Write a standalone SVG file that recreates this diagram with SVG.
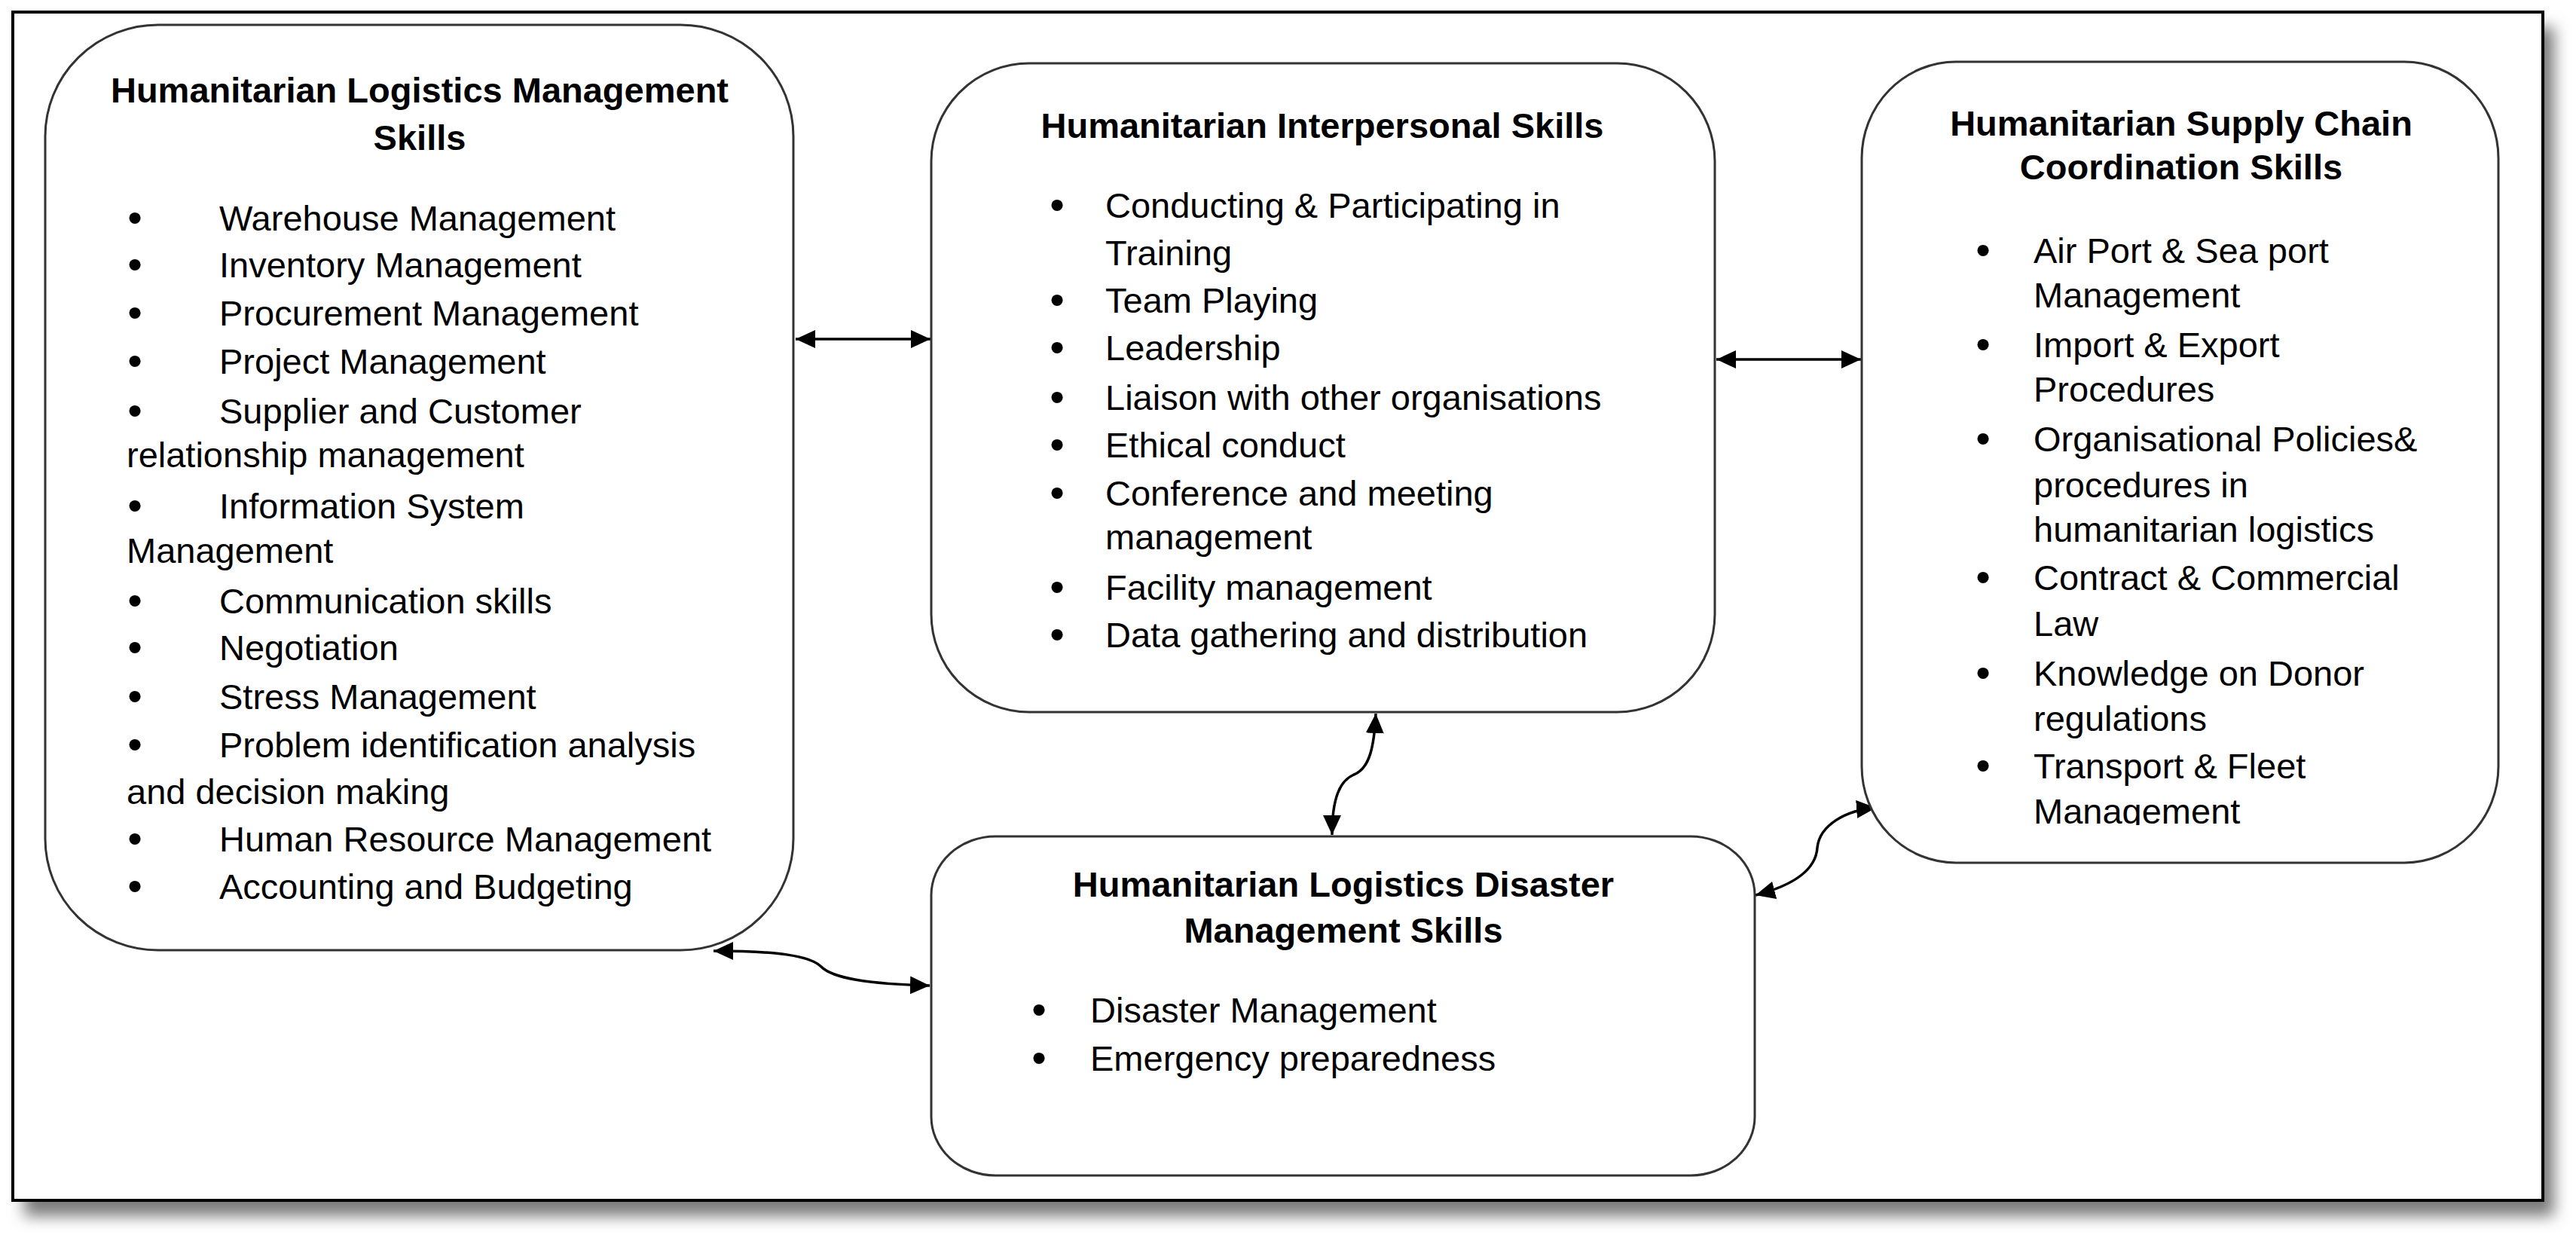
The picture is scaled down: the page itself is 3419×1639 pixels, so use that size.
<svg xmlns="http://www.w3.org/2000/svg" width="3419" height="1639" viewBox="0 0 3419 1639">
<style>
.box{fill:#fff;stroke:#333;stroke-width:3}
.t{font-family:"Liberation Sans",Arial,sans-serif;font-size:47px;fill:#000}
.h{font-weight:bold;text-anchor:middle}
.b{text-anchor:middle;font-size:56px}
.c{fill:none;stroke:#000;stroke-width:3.5;marker-start:url(#ah);marker-end:url(#ah)}
</style>
<defs>
<filter id="sh" x="-5%" y="-5%" width="110%" height="110%"><feGaussianBlur stdDeviation="10"/></filter>
<marker id="ah" markerUnits="userSpaceOnUse" markerWidth="26" markerHeight="24" refX="26" refY="12" orient="auto-start-reverse" viewBox="0 0 26 24"><path d="M0,0 L26,12 L0,24 z" fill="#000"/></marker>
<clipPath id="clip3"><rect x="2471" y="82" width="845" height="1013"/></clipPath>
</defs>
<rect width="3419" height="1639" fill="#fff"/>
<rect x="32" y="36" width="3358" height="1578" fill="#7a7a7a" filter="url(#sh)"/>
<rect x="17" y="16" width="3358" height="1577" fill="#fff" stroke="#000" stroke-width="4"/>

<g id="connectors">
<path class="c" d="M1056,450 L1235,450"/>
<path class="c" d="M2278,477 L2470,477"/>
<path class="c" d="M1826,947 C1824,990 1818,1020 1797,1028 C1778,1036 1768,1060 1768,1108"/>
<path class="c" d="M2330,1188 C2380,1175 2410,1155 2412,1125 C2415,1095 2450,1075 2490,1072"/>
<path class="c" d="M947,1262 C1030,1262 1075,1268 1090,1283 C1105,1298 1150,1306 1234,1308"/>
</g>

<g id="node-logistics-management">
<rect class="box" x="60" y="33" width="993" height="1228" rx="150" ry="148"/>
<text class="t h" x="557" y="136">Humanitarian Logistics Management</text>
<text class="t h" x="557" y="199">Skills</text>
<text class="t b" x="179" y="308">•</text><text class="t" x="291" y="306">Warehouse Management</text>
<text class="t b" x="179" y="370">•</text><text class="t" x="291" y="368">Inventory Management</text>
<text class="t b" x="179" y="434">•</text><text class="t" x="291" y="432">Procurement Management</text>
<text class="t b" x="179" y="498">•</text><text class="t" x="291" y="496">Project Management</text>
<text class="t b" x="179" y="564">•</text><text class="t" x="291" y="562">Supplier and Customer</text>
<text class="t" x="168" y="620">relationship management</text>
<text class="t b" x="179" y="690">•</text><text class="t" x="291" y="688">Information System</text>
<text class="t" x="168" y="747">Management</text>
<text class="t b" x="179" y="816">•</text><text class="t" x="291" y="814">Communication skills</text>
<text class="t b" x="179" y="878">•</text><text class="t" x="291" y="876">Negotiation</text>
<text class="t b" x="179" y="943">•</text><text class="t" x="291" y="941">Stress Management</text>
<text class="t b" x="179" y="1007">•</text><text class="t" x="291" y="1005">Problem identification analysis</text>
<text class="t" x="168" y="1067">and decision making</text>
<text class="t b" x="179" y="1132">•</text><text class="t" x="291" y="1130">Human Resource Management</text>
<text class="t b" x="179" y="1195">•</text><text class="t" x="291" y="1193">Accounting and Budgeting</text>
</g>

<g id="node-interpersonal">
<rect class="box" x="1236" y="84" width="1040" height="861" rx="130" ry="130"/>
<text class="t h" x="1755" y="183">Humanitarian Interpersonal Skills</text>
<text class="t b" x="1403" y="291">•</text><text class="t" x="1467" y="289">Conducting &amp; Participating in</text>
<text class="t" x="1467" y="352">Training</text>
<text class="t b" x="1403" y="417">•</text><text class="t" x="1467" y="415">Team Playing</text>
<text class="t b" x="1403" y="480">•</text><text class="t" x="1467" y="478">Leadership</text>
<text class="t b" x="1403" y="546">•</text><text class="t" x="1467" y="544">Liaison with other organisations</text>
<text class="t b" x="1403" y="609">•</text><text class="t" x="1467" y="607">Ethical conduct</text>
<text class="t b" x="1403" y="673">•</text><text class="t" x="1467" y="671">Conference and meeting</text>
<text class="t" x="1467" y="729">management</text>
<text class="t b" x="1403" y="798">•</text><text class="t" x="1467" y="796">Facility management</text>
<text class="t b" x="1403" y="861">•</text><text class="t" x="1467" y="859">Data gathering and distribution</text>
</g>

<g id="node-supply-chain">
<rect class="box" x="2471" y="82" width="845" height="1063" rx="125" ry="128"/>
<text class="t h" x="2895" y="180">Humanitarian Supply Chain</text>
<text class="t h" x="2895" y="238">Coordination Skills</text>
<g clip-path="url(#clip3)">
<text class="t b" x="2632" y="351">•</text><text class="t" x="2699" y="349">Air Port &amp; Sea port</text>
<text class="t" x="2699" y="408">Management</text>
<text class="t b" x="2632" y="476">•</text><text class="t" x="2699" y="474">Import &amp; Export</text>
<text class="t" x="2699" y="533">Procedures</text>
<text class="t b" x="2632" y="601">•</text><text class="t" x="2699" y="599">Organisational Policies&amp;</text>
<text class="t" x="2699" y="660">procedures in</text>
<text class="t" x="2699" y="719">humanitarian logistics</text>
<text class="t b" x="2632" y="785">•</text><text class="t" x="2699" y="783">Contract &amp; Commercial</text>
<text class="t" x="2699" y="844">Law</text>
<text class="t b" x="2632" y="912">•</text><text class="t" x="2699" y="910">Knowledge on Donor</text>
<text class="t" x="2699" y="970">regulations</text>
<text class="t b" x="2632" y="1035">•</text><text class="t" x="2699" y="1033">Transport &amp; Fleet</text>
<text class="t" x="2699" y="1093">Management</text>
</g>
</g>

<g id="node-disaster">
<rect class="box" x="1236" y="1110" width="1093" height="450" rx="85" ry="78"/>
<text class="t h" x="1783" y="1190">Humanitarian Logistics Disaster</text>
<text class="t h" x="1783" y="1251">Management Skills</text>
<text class="t b" x="1379" y="1359">•</text><text class="t" x="1447" y="1357">Disaster Management</text>
<text class="t b" x="1379" y="1423">•</text><text class="t" x="1447" y="1421">Emergency preparedness</text>
</g>
</svg>
